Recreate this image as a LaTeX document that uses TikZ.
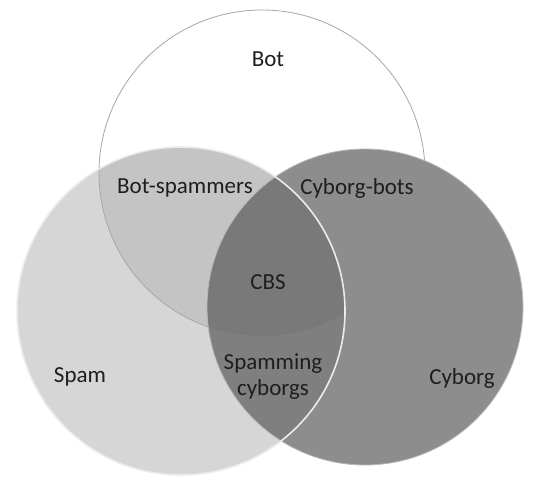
\documentclass[tikz,border=0pt]{standalone}
\usepackage{fontspec}
\setmainfont{Carlito}
\usepackage{xcolor}
\definecolor{spamgray}{HTML}{D6D6D6}
\definecolor{botspamgray}{HTML}{C4C4C4}
\definecolor{cyborggray}{HTML}{555555}
\definecolor{labelgray}{HTML}{1E1E1E}

\begin{document}
\begin{tikzpicture}[x=1pt,y=-1pt,
    lbl/.style={font=\fontsize{23}{26}\selectfont, text=labelgray, align=center}]
    \useasboundingbox (0,0) rectangle (536,479);
    \fill[white] (0,0) rectangle (536,479);

    \fill[spamgray] (181,311) circle (164);

    \begin{scope}
        \clip (262,173) circle (163);
        \fill[botspamgray] (181,311) circle (164);
    \end{scope}

    % bot outline, kept out of the cyborg disc
    \begin{scope}[even odd rule]
        \clip (0,0) rectangle (536,479) (365,307) circle (158);
        \draw[gray!70, line width=0.8pt] (262,173) circle (163);
    \end{scope}

    \fill[cyborggray, opacity=0.67] (365,307) circle (158);
    \draw[gray!55, line width=0.8pt] (365,307) circle (158);

    \draw[white!85!gray, line width=1.6pt] (181,311) circle (164);

    \node[lbl] (bot) at (268,59) {Bot};
    \node[lbl] (botspam) at (185,188) {Bot-spammers};
    \node[lbl] (cyborgbots) at (357,188) {Cyborg-bots};
    \node[lbl] (cbs) at (268,282) {CBS};
    \node[lbl] (spamcyb) at (273,377) {Spamming\\cyborgs};
    \node[lbl] (spam) at (80,377) {Spam};
    \node[lbl] (cyborg) at (462,378) {Cyborg};
\end{tikzpicture}
\end{document}
